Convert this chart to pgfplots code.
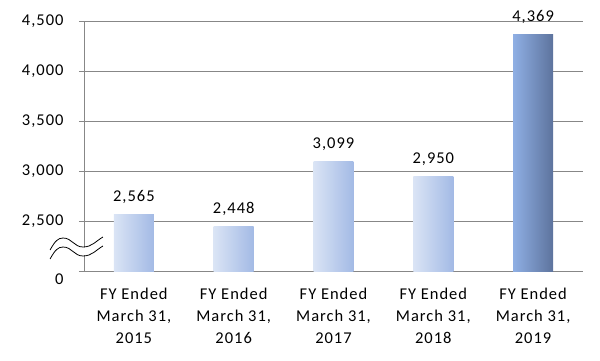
\documentclass[border=0pt]{standalone}
\usepackage{pgfplots}
\pgfplotsset{compat=1.18}
\usepackage{fontspec}
\setmainfont{Carlito}[LetterSpace=6]
\definecolor{gridc}{HTML}{878787}
\definecolor{lightL}{HTML}{DAE4F5}
\definecolor{lightR}{HTML}{A3BAE5}
\definecolor{darkL}{HTML}{8FAFE4}
\definecolor{darkR}{HTML}{5D739D}
\begin{document}
\begin{tikzpicture}[font=\fontsize{16.5bp}{22bp}\selectfont]
\begin{axis}[
  at={(0,0)}, anchor=south west,
  scale only axis, width=499bp, height=250bp,
  xmin=0.5, xmax=5.5, ymin=0, ymax=2500,
  axis x line*=bottom, axis y line*=left,
  axis line style={draw=gridc, line width=0.8pt},
  xtick={1,2,3,4,5},
  xticklabels={{FY Ended\\March 31,\\2015},{FY Ended\\March 31,\\2016},{FY Ended\\March 31,\\2017},{FY Ended\\March 31,\\2018},{FY Ended\\March 31,\\2019}},
  xticklabel style={align=center, text=black, yshift=-9bp},
  x tick style={draw=none},
  extra x ticks={0.5,1.5,2.5,3.5,4.5,5.5},
  extra x tick labels={},
  extra x tick style={grid=none, tick style={draw=gridc, line width=0.8pt}, major tick length=5bp},
  ytick={500,1000,1500,2000,2500},
  yticklabels={{2,500},{3,000},{3,500},{4,000},{4,500}},
  yticklabel style={xshift=-12bp, text=black},
  extra y ticks={0},
  extra y tick labels={0},
  extra y tick style={grid=none, yticklabel style={yshift=-8bp}},
  ymajorgrids, grid style={draw=gridc, line width=0.8pt},
  tick align=outside, major tick length=5bp,
  y tick style={draw=gridc, line width=0.8pt},
  xtick pos=bottom, ytick pos=left,
  clip=false,
  nodes near coords={\pgfmathprintnumber[assume math mode=true,1000 sep={,}]{\pgfplotspointmeta}},
  every node near coord/.append style={anchor=base, inner sep=0pt, yshift=13bp, text=black},
  point meta=explicit,
  lightbar/.style={ybar, bar width=0.4, /pgf/bar shift=0pt, draw=none, left color=lightL, right color=lightR},
]
\addplot[lightbar] coordinates {(1,565) [2565]};
\addplot[lightbar] coordinates {(2,448) [2448]};
\addplot[lightbar] coordinates {(3,1099) [3099]};
\addplot[lightbar] coordinates {(4,950) [2950]};
\addplot[ybar, bar width=0.4, /pgf/bar shift=0pt, draw=none, left color=darkL, right color=darkR]
  coordinates {(5,2369) [4369]};
% axis break symbol
\draw[white, line width=8bp] (axis cs:0.16,165) .. controls (axis cs:0.21,255) and (axis cs:0.24,285) .. (axis cs:0.29,285) .. controls (axis cs:0.38,285) and (axis cs:0.40,195) .. (axis cs:0.49,195) .. controls (axis cs:0.58,195) and (axis cs:0.62,255) .. (axis cs:0.69,295);
\draw[black, line width=0.8pt] (axis cs:0.16,210) .. controls (axis cs:0.21,300) and (axis cs:0.24,330) .. (axis cs:0.29,330) .. controls (axis cs:0.38,330) and (axis cs:0.40,240) .. (axis cs:0.49,240) .. controls (axis cs:0.58,240) and (axis cs:0.62,300) .. (axis cs:0.69,340);
\draw[black, line width=0.8pt, yshift=-9bp] (axis cs:0.16,210) .. controls (axis cs:0.21,300) and (axis cs:0.24,330) .. (axis cs:0.29,330) .. controls (axis cs:0.38,330) and (axis cs:0.40,240) .. (axis cs:0.49,240) .. controls (axis cs:0.58,240) and (axis cs:0.62,300) .. (axis cs:0.69,340);
\end{axis}
\useasboundingbox (-84bp,-90bp) rectangle (516bp,271bp);
\end{tikzpicture}
\end{document}
